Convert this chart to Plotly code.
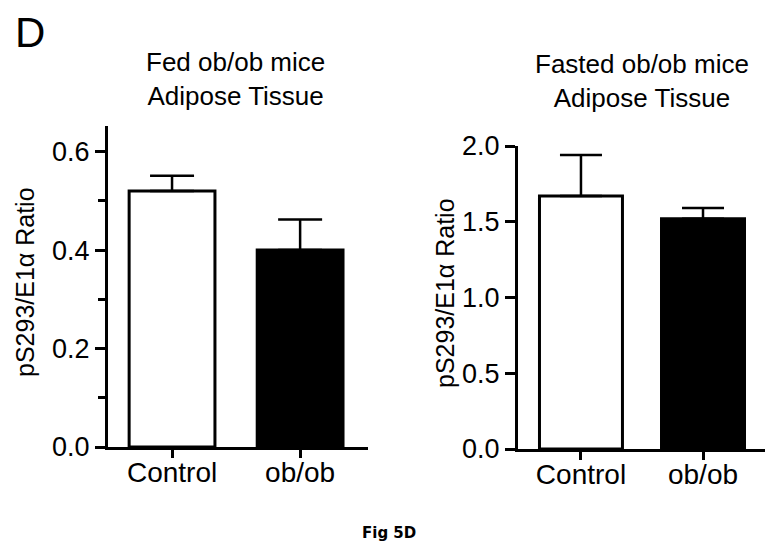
import plotly.graph_objects as go

# page body has an 8px margin; figure is sized to fit inside the 777x552 window
OFF = 8
W, H = 777 - 2 * OFF, 552 - 2 * OFF

categories = ["Control", "ob/ob"]
fed_values = [0.52, 0.40]
fed_sem = [0.031, 0.062]
fasted_values = [1.67, 1.52]
fasted_sem = [0.27, 0.07]
bar_colors = ["white", "black"]

fed_title = "Fed ob/ob mice<br>Adipose Tissue"
fasted_title = "Fasted ob/ob mice<br>Adipose Tissue"
y_title = "pS293/E1α Ratio"
fed_ticks = [0.0, 0.2, 0.4, 0.6]
fasted_ticks = [0.0, 0.5, 1.0, 1.5, 2.0]

FONT = "Liberation Sans, Arial, sans-serif"


def px_x(p):
    return (p - OFF) / W


def px_y(p):
    return 1 - (p - OFF) / H


fig = go.Figure()

fig.add_trace(go.Bar(
    x=categories, y=fed_values, width=0.67,
    marker=dict(color=bar_colors, line=dict(color="black", width=3)),
    error_y=dict(type="data", array=fed_sem, arrayminus=[0, 0], symmetric=False,
                 color="black", thickness=2.5, width=22),
    xaxis="x", yaxis="y", showlegend=False,
))
fig.add_trace(go.Bar(
    x=categories, y=fasted_values, width=0.68,
    marker=dict(color=bar_colors, line=dict(color="black", width=3)),
    error_y=dict(type="data", array=fasted_sem, arrayminus=[0, 0], symmetric=False,
                 color="black", thickness=2.5, width=21),
    xaxis="x2", yaxis="y2", showlegend=False,
))

axis_common = dict(showgrid=False, zeroline=False, showline=True, linecolor="black",
                   linewidth=3, ticks="outside", tickcolor="black", tickwidth=3,
                   automargin=False)
yfont = dict(family=FONT, size=27, color="black")
xfont = dict(family=FONT, size=28, color="black")

fig.update_layout(
    template="none",
    width=W, height=H,
    margin=dict(l=0, r=0, t=0, b=0, pad=0, autoexpand=False),
    paper_bgcolor="white", plot_bgcolor="white",
    showlegend=False,
    xaxis=dict(domain=[px_x(108), px_x(368)], anchor="y", type="category",
               range=[-0.5, 1.53], ticklen=8, tickfont=xfont,
               ticklabelstandoff=-10, **axis_common),
    yaxis=dict(domain=[px_y(447), px_y(126)], anchor="x", range=[0, 0.652],
               tickvals=fed_ticks, ticktext=["%.1f" % v for v in fed_ticks], ticklen=10,
               tickfont=yfont,
               minor=dict(tickvals=[0.1, 0.3, 0.5], ticks="outside", ticklen=7,
                          tickwidth=3, tickcolor="black", showgrid=False),
               **axis_common),
    xaxis2=dict(domain=[px_x(518), px_x(765)], anchor="y2", type="category",
                range=[-0.516, 1.508], ticklen=8, tickfont=xfont,
                ticklabelstandoff=-10, **axis_common),
    yaxis2=dict(domain=[px_y(449), px_y(146)], anchor="x2", range=[0, 2.0],
                tickvals=fasted_ticks, ticktext=["%.1f" % v for v in fasted_ticks],
                ticklen=10, tickfont=yfont, **axis_common),
)

annotations = [
    dict(text="D", x=px_x(14), y=1, xanchor="left", yanchor="top", borderpad=0,
         font=dict(family=FONT, size=42, color="black")),
    dict(text=fed_title, x=px_x(236), y=px_y(79), xanchor="center", yanchor="middle",
         font=dict(family=FONT, size=26, color="black")),
    dict(text=fasted_title, x=px_x(642), y=px_y(81), xanchor="center", yanchor="middle",
         font=dict(family=FONT, size=26, color="black")),
    dict(text=y_title, x=px_x(25), y=px_y(282), textangle=-90, xanchor="center",
         yanchor="middle", font=dict(family=FONT, size=25, color="black")),
    dict(text=y_title, x=px_x(445), y=px_y(293), textangle=-90, xanchor="center",
         yanchor="middle", font=dict(family=FONT, size=25, color="black")),
    dict(text="<b>Fig 5D</b>", x=px_x(389), y=px_y(533), xanchor="center",
         yanchor="middle", font=dict(family="DejaVu Sans", size=15, color="black")),
]
for a in annotations:
    a.update(xref="paper", yref="paper", showarrow=False)
fig.update_layout(annotations=annotations)

fig.write_html("out.html")
